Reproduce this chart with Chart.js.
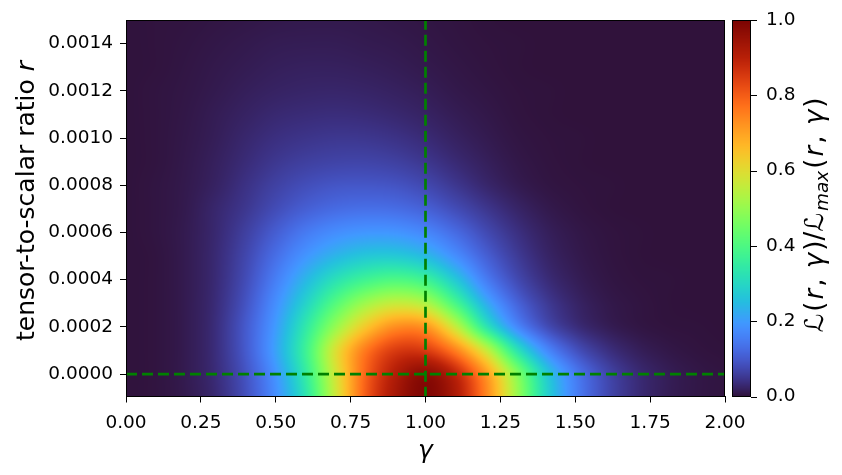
<!DOCTYPE html>
<html>
<head>
<meta charset="utf-8">
<script src="https://cdn.jsdelivr.net/npm/chart.js@4.4.1/dist/chart.umd.min.js"></script>
<style>
  html, body { margin: 0; padding: 0; background: #fff; }
  #wrap { width: 842px; height: 475px; }
</style>
</head>
<body>
<div id="wrap"><canvas id="chart" width="842" height="475"></canvas></div>
<script>

// grid nodes of the likelihood map
let gamma_nodes = [0, 0.1, 0.2, 0.3, 0.4, 0.5, 0.6, 0.7, 0.8, 0.9, 1.0, 1.1, 1.2, 1.3, 1.4, 1.5, 1.6, 1.7, 1.8, 1.9, 2.0];
let r_nodes = [-0.0001, 0, 0.0001, 0.0002, 0.0003, 0.0004, 0.0005, 0.0006, 0.0007,
               0.0008, 0.0009, 0.0010, 0.0011, 0.0012, 0.0013, 0.0014, 0.0015];

// normalised likelihood along gamma, one row per r node
let row_m1 = [0.001, 0.003, 0.011, 0.032, 0.085, 0.18, 0.33, 0.57, 0.80, 0.93, 0.99, 0.92, 0.75, 0.52, 0.30, 0.16, 0.08, 0.037, 0.016, 0.007, 0.003];
let row_0  = [0.001, 0.003, 0.012, 0.035, 0.09, 0.19, 0.35, 0.58, 0.79, 0.91, 0.97, 0.89, 0.72, 0.49, 0.28, 0.15, 0.075, 0.035, 0.016, 0.007, 0.003];
let row_1  = [0.001, 0.003, 0.012, 0.037, 0.10, 0.21, 0.37, 0.59, 0.76, 0.85, 0.85, 0.75, 0.57, 0.34, 0.18, 0.09, 0.043, 0.019, 0.008, 0.003, 0.001];
let row_2  = [0.001, 0.003, 0.012, 0.037, 0.10, 0.20, 0.34, 0.50, 0.64, 0.73, 0.72, 0.56, 0.34, 0.18, 0.085, 0.038, 0.016, 0.006, 0.002, 0.001, 0];
let row_3  = [0.001, 0.003, 0.012, 0.035, 0.09, 0.18, 0.29, 0.41, 0.51, 0.56, 0.53, 0.39, 0.23, 0.12, 0.057, 0.025, 0.01, 0.004, 0.001, 0, 0];
let row_4  = [0.001, 0.003, 0.012, 0.033, 0.08, 0.155, 0.24, 0.32, 0.375, 0.40, 0.37, 0.27, 0.155, 0.08, 0.037, 0.016, 0.006, 0.002, 0.001, 0, 0];
let row_5  = [0.001, 0.003, 0.012, 0.032, 0.072, 0.13, 0.19, 0.238, 0.268, 0.272, 0.245, 0.18, 0.11, 0.058, 0.026, 0.011, 0.004, 0.001, 0, 0, 0];
let row_6  = [0.001, 0.004, 0.012, 0.03, 0.062, 0.105, 0.148, 0.178, 0.192, 0.19, 0.168, 0.125, 0.078, 0.042, 0.019, 0.008, 0.003, 0.001, 0, 0, 0];
let row_7  = [0.001, 0.004, 0.011, 0.028, 0.05, 0.08, 0.107, 0.125, 0.132, 0.128, 0.11, 0.08, 0.05, 0.026, 0.011, 0.004, 0.001, 0, 0, 0, 0];
let row_8  = [0.001, 0.004, 0.01, 0.022, 0.042, 0.064, 0.082, 0.093, 0.095, 0.09, 0.074, 0.05, 0.028, 0.013, 0.005, 0.002, 0.001, 0, 0, 0, 0];
let row_9  = [0.001, 0.003, 0.009, 0.019, 0.034, 0.05, 0.061, 0.067, 0.068, 0.062, 0.049, 0.032, 0.018, 0.008, 0.003, 0.001, 0, 0, 0, 0, 0];
let row_10 = [0.001, 0.003, 0.008, 0.016, 0.028, 0.039, 0.046, 0.05, 0.049, 0.043, 0.033, 0.021, 0.012, 0.005, 0.002, 0.001, 0, 0, 0, 0, 0];
let row_11 = [0.001, 0.003, 0.007, 0.014, 0.022, 0.03, 0.034, 0.036, 0.034, 0.029, 0.022, 0.014, 0.008, 0.003, 0.001, 0, 0, 0, 0, 0, 0];
let row_12 = [0.001, 0.003, 0.006, 0.011, 0.017, 0.022, 0.025, 0.026, 0.024, 0.02, 0.015, 0.009, 0.005, 0.002, 0.001, 0, 0, 0, 0, 0, 0];
let row_13 = [0.001, 0.002, 0.005, 0.009, 0.013, 0.017, 0.019, 0.019, 0.017, 0.014, 0.01, 0.006, 0.003, 0.001, 0, 0, 0, 0, 0, 0, 0];
let row_14 = [0.001, 0.002, 0.004, 0.007, 0.01, 0.013, 0.014, 0.014, 0.012, 0.01, 0.007, 0.004, 0.002, 0.001, 0, 0, 0, 0, 0, 0, 0];
let row_15 = [0.001, 0.002, 0.003, 0.005, 0.007, 0.009, 0.01, 0.01, 0.009, 0.007, 0.005, 0.003, 0.001, 0, 0, 0, 0, 0, 0, 0, 0];

let like_rows = [row_m1, row_0, row_1, row_2, row_3, row_4, row_5, row_6, row_7,
                 row_8, row_9, row_10, row_11, row_12, row_13, row_14, row_15];

// reference lines (gamma = 1, r = 0)
let vline_x = [1, 1];
let vline_y = [-0.0001, 0.0015];
let hline_x = [0, 2];
let hline_y = [0, 0];

// tick labels
let x_ticks = [0, 0.25, 0.5, 0.75, 1.0, 1.25, 1.5, 1.75, 2.0];
let y_ticks = [0, 0.0002, 0.0004, 0.0006, 0.0008, 0.0010, 0.0012, 0.0014];
let cb_ticks = [0, 0.2, 0.4, 0.6, 0.8, 1.0];

const FONT = 'DejaVu Sans';

// turbo colour map (low end from the table, rest from the polynomial fit)
const turbo_low = [[48,18,59],[54,33,95],[59,47,128],[63,62,156],[66,75,181],[69,89,203],
                   [70,102,221],[71,115,235],[70,128,246],[69,140,253],[64,153,255]];

function turbo_poly(x) {
  const r = 0.13572138 + x*(4.61539260 + x*(-42.66032258 + x*(132.13108234 + x*(-152.94239396 + x*59.28637943))));
  const g = 0.09140261 + x*(2.19418839 + x*(4.84296658 + x*(-14.18503333 + x*(4.27729857 + x*2.82956604))));
  const b = 0.10667330 + x*(12.64194608 + x*(-60.58204836 + x*(110.36276771 + x*(-89.90310912 + x*27.34824973))));
  return [r*255, g*255, b*255].map(v => Math.max(0, Math.min(255, v)));
}

function mix(a, b, u) {
  return [a[0] + (b[0]-a[0])*u, a[1] + (b[1]-a[1])*u, a[2] + (b[2]-a[2])*u];
}

function turbo(t) {
  t = Math.max(0, Math.min(1, t));
  const lowEnd = 50 / 255;
  if (t <= lowEnd) {
    const f = t * 255 / 5;
    const i = Math.min(9, Math.floor(f));
    return mix(turbo_low[i], turbo_low[i+1], f - i);
  }
  if (t < 0.25) return mix(turbo_low[10], turbo_poly(0.25), (t - lowEnd) / (0.25 - lowEnd));
  if (t <= 0.9) return turbo_poly(t);
  return mix(turbo_poly(0.9), [122, 4, 3], (t - 0.9) / 0.1);
}

// smooth shading between the grid nodes (Catmull-Rom)
function cubic(p0, p1, p2, p3, t) {
  return p1 + 0.5 * t * (p2 - p0 + t * (2*p0 - 5*p1 + 4*p2 - p3 + t * (3*(p1 - p2) + p3 - p0)));
}

function node_pos(nodes, v) {
  const n = nodes.length - 1;
  const f = (v - nodes[0]) / (nodes[n] - nodes[0]) * n;
  const c = Math.max(0, Math.min(n, f));
  const i = Math.min(n - 1, Math.floor(c));
  return [i, c - i];
}

function likelihood_at(g, r) {
  const [i, u] = node_pos(gamma_nodes, g);
  const [j, w] = node_pos(r_nodes, r);
  const nx = gamma_nodes.length - 1, ny = r_nodes.length - 1;
  const col = k => Math.max(0, Math.min(nx, k));
  const rowv = [];
  for (let dj = -1; dj <= 2; dj++) {
    const row = like_rows[Math.max(0, Math.min(ny, j + dj))];
    rowv.push(cubic(row[col(i-1)], row[col(i)], row[col(i+1)], row[col(i+2)], u));
  }
  return Math.max(0, Math.min(1, cubic(rowv[0], rowv[1], rowv[2], rowv[3], w)));
}

// draws the likelihood map under the datasets
const heatmap_plugin = {
  id: 'heatmap',
  beforeDatasetsDraw(chart) {
    const {ctx, chartArea: a, scales: {x, y}} = chart;
    const x0 = Math.floor(a.left), y0 = Math.floor(a.top);
    const w = Math.ceil(a.right) - x0, h = Math.ceil(a.bottom) - y0;
    const off = document.createElement('canvas');
    off.width = w; off.height = h;
    const octx = off.getContext('2d');
    const img = octx.createImageData(w, h);
    for (let j = 0; j < h; j++) {
      const r = y.getValueForPixel(y0 + j + 0.5);
      for (let i = 0; i < w; i++) {
        const g = x.getValueForPixel(x0 + i + 0.5);
        const c = turbo(likelihood_at(g, r));
        const k = (j * w + i) * 4;
        img.data[k] = c[0]; img.data[k+1] = c[1]; img.data[k+2] = c[2]; img.data[k+3] = 255;
      }
    }
    octx.putImageData(img, 0, 0);
    ctx.drawImage(off, x0, y0);
  }
};

// text made of several font runs, centred on the origin, stretched to a length if asked
function draw_runs(ctx, runs, target) {
  let total = 0;
  runs.forEach(run => { ctx.font = run.font; run.w = ctx.measureText(run.text).width; total += run.w; });
  const gap = target && runs.length > 1 ? Math.max(0, (target - total) / (runs.length - 1)) : 0;
  let pos = -(total + gap * (runs.length - 1)) / 2;
  runs.forEach(run => {
    ctx.font = run.font;
    ctx.fillText(run.text, pos, run.dy || 0);
    pos += run.w + gap;
  });
}

// frame, colour bar and axis titles
const decor_plugin = {
  id: 'decor',
  afterDraw(chart) {
    const {ctx, chartArea: a, scales} = chart;
    const cb = scales.cb;
    ctx.save();

    // colour bar
    const x0 = a.right + 7, x1 = a.right + 26;
    const top = cb.getPixelForValue(1), bot = cb.getPixelForValue(0);
    for (let py = Math.floor(top); py < Math.ceil(bot); py++) {
      const c = turbo(cb.getValueForPixel(py + 0.5));
      ctx.fillStyle = `rgb(${c[0]|0},${c[1]|0},${c[2]|0})`;
      ctx.fillRect(x0, py, x1 - x0, 1);
    }
    ctx.strokeStyle = '#000';
    ctx.lineWidth = 1;
    ctx.strokeRect(x0 + 0.5, Math.floor(top) + 0.5, x1 - x0 - 1, Math.ceil(bot) - Math.floor(top) - 1);
    cb_ticks.forEach(t => {
      const py = Math.round(cb.getPixelForValue(t)) + 0.5;
      ctx.beginPath();
      ctx.moveTo(x1, py);
      ctx.lineTo(x1 + 6, py);
      ctx.stroke();
    });

    // axes frame
    ctx.strokeRect(Math.floor(a.left) + 0.5, Math.floor(a.top) + 0.5,
                   Math.ceil(a.right) - Math.floor(a.left) - 1, Math.ceil(a.bottom) - Math.floor(a.top) - 1);

    ctx.fillStyle = '#000';
    ctx.textBaseline = 'alphabetic';

    // x title
    ctx.save();
    ctx.translate((a.left + a.right) / 2, a.bottom + 61);
    draw_runs(ctx, [{text: 'γ', font: `italic 25px "${FONT}"`}]);
    ctx.restore();

    // y title
    ctx.save();
    ctx.translate(34, 201);
    ctx.rotate(-Math.PI / 2);
    draw_runs(ctx, [
      {text: 'tensor-to-scalar ratio ', font: `25px "${FONT}"`},
      {text: 'r', font: `italic 25px "${FONT}"`}
    ]);
    ctx.restore();

    // colour bar title
    ctx.save();
    ctx.translate(823, 215);
    ctx.rotate(-Math.PI / 2);
    const n = `26px "${FONT}"`, it = `italic 26px "${FONT}"`;
    draw_runs(ctx, [
      {text: 'ℒ', font: n}, {text: '(', font: n}, {text: 'r', font: it}, {text: ', ', font: n},
      {text: 'γ', font: it}, {text: ')/ℒ', font: n},
      {text: 'max', font: `italic 18.5px "${FONT}"`, dy: 5},
      {text: '(', font: n}, {text: 'r', font: it}, {text: ', ', font: n},
      {text: 'γ', font: it}, {text: ')', font: n}
    ], 235);
    ctx.restore();

    ctx.restore();
  }
};

// keep the plot box fixed: axis sizes set by hand, no label overhang padding
function fix_size(prop, size) {
  return s => {
    s[prop] = size;
    s.paddingTop = 0; s.paddingBottom = 0; s.paddingLeft = 0; s.paddingRight = 0;
  };
}

function to_points(xs, ys) {
  return xs.map((v, i) => ({x: v, y: ys[i]}));
}

const line_style = {
  showLine: true,
  borderColor: '#008000',
  borderWidth: 2.7,
  borderDash: [11, 5],
  borderCapStyle: 'butt',
  pointRadius: 0,
  fill: false
};

const ctx = document.getElementById('chart').getContext('2d');

let chart = new Chart(ctx, {
  type: 'scatter',
  data: {
    datasets: [
      Object.assign({label: 'gamma = 1', data: to_points(vline_x, vline_y)}, line_style),
      Object.assign({label: 'r = 0', data: to_points(hline_x, hline_y)}, line_style)
    ]
  },
  options: {
    responsive: false,
    animation: false,
    layout: { padding: { top: 20, left: 0, right: 0, bottom: 0 } },
    plugins: { legend: { display: false }, tooltip: { enabled: false } },
    scales: {
      x: {
        type: 'linear',
        min: 0, max: 2,
        afterFit: fix_size('height', 78.5),
        afterBuildTicks: s => { s.ticks = x_ticks.map(v => ({value: v})); },
        grid: { display: true, drawOnChartArea: false, drawTicks: true, tickLength: 6, color: '#000' },
        border: { display: true, color: '#000' },
        ticks: {
          color: '#000', padding: 10, maxRotation: 0, autoSkip: false,
          font: { family: FONT, size: 18.5 },
          callback: v => v.toFixed(2)
        }
      },
      y: {
        type: 'linear',
        min: -0.000095, max: 0.0015,
        afterFit: fix_size('width', 126),
        afterBuildTicks: s => { s.ticks = y_ticks.map(v => ({value: v})); },
        grid: { display: true, drawOnChartArea: false, drawTicks: true, tickLength: 6, color: '#000' },
        border: { display: true, color: '#000' },
        ticks: {
          color: '#000', padding: 7, autoSkip: false,
          font: { family: FONT, size: 18.5 },
          callback: v => v.toFixed(4)
        }
      },
      cb: {
        type: 'linear',
        position: 'right',
        min: 0, max: 1,
        afterFit: fix_size('width', 117),
        afterBuildTicks: s => { s.ticks = cb_ticks.map(v => ({value: v})); },
        grid: { display: false, drawTicks: false },
        border: { display: false },
        ticks: {
          color: '#000', padding: 41, autoSkip: false,
          font: { family: FONT, size: 18.5 },
          callback: v => v.toFixed(1)
        }
      }
    }
  },
  plugins: [heatmap_plugin, decor_plugin]
});
</script>
</body>
</html>
